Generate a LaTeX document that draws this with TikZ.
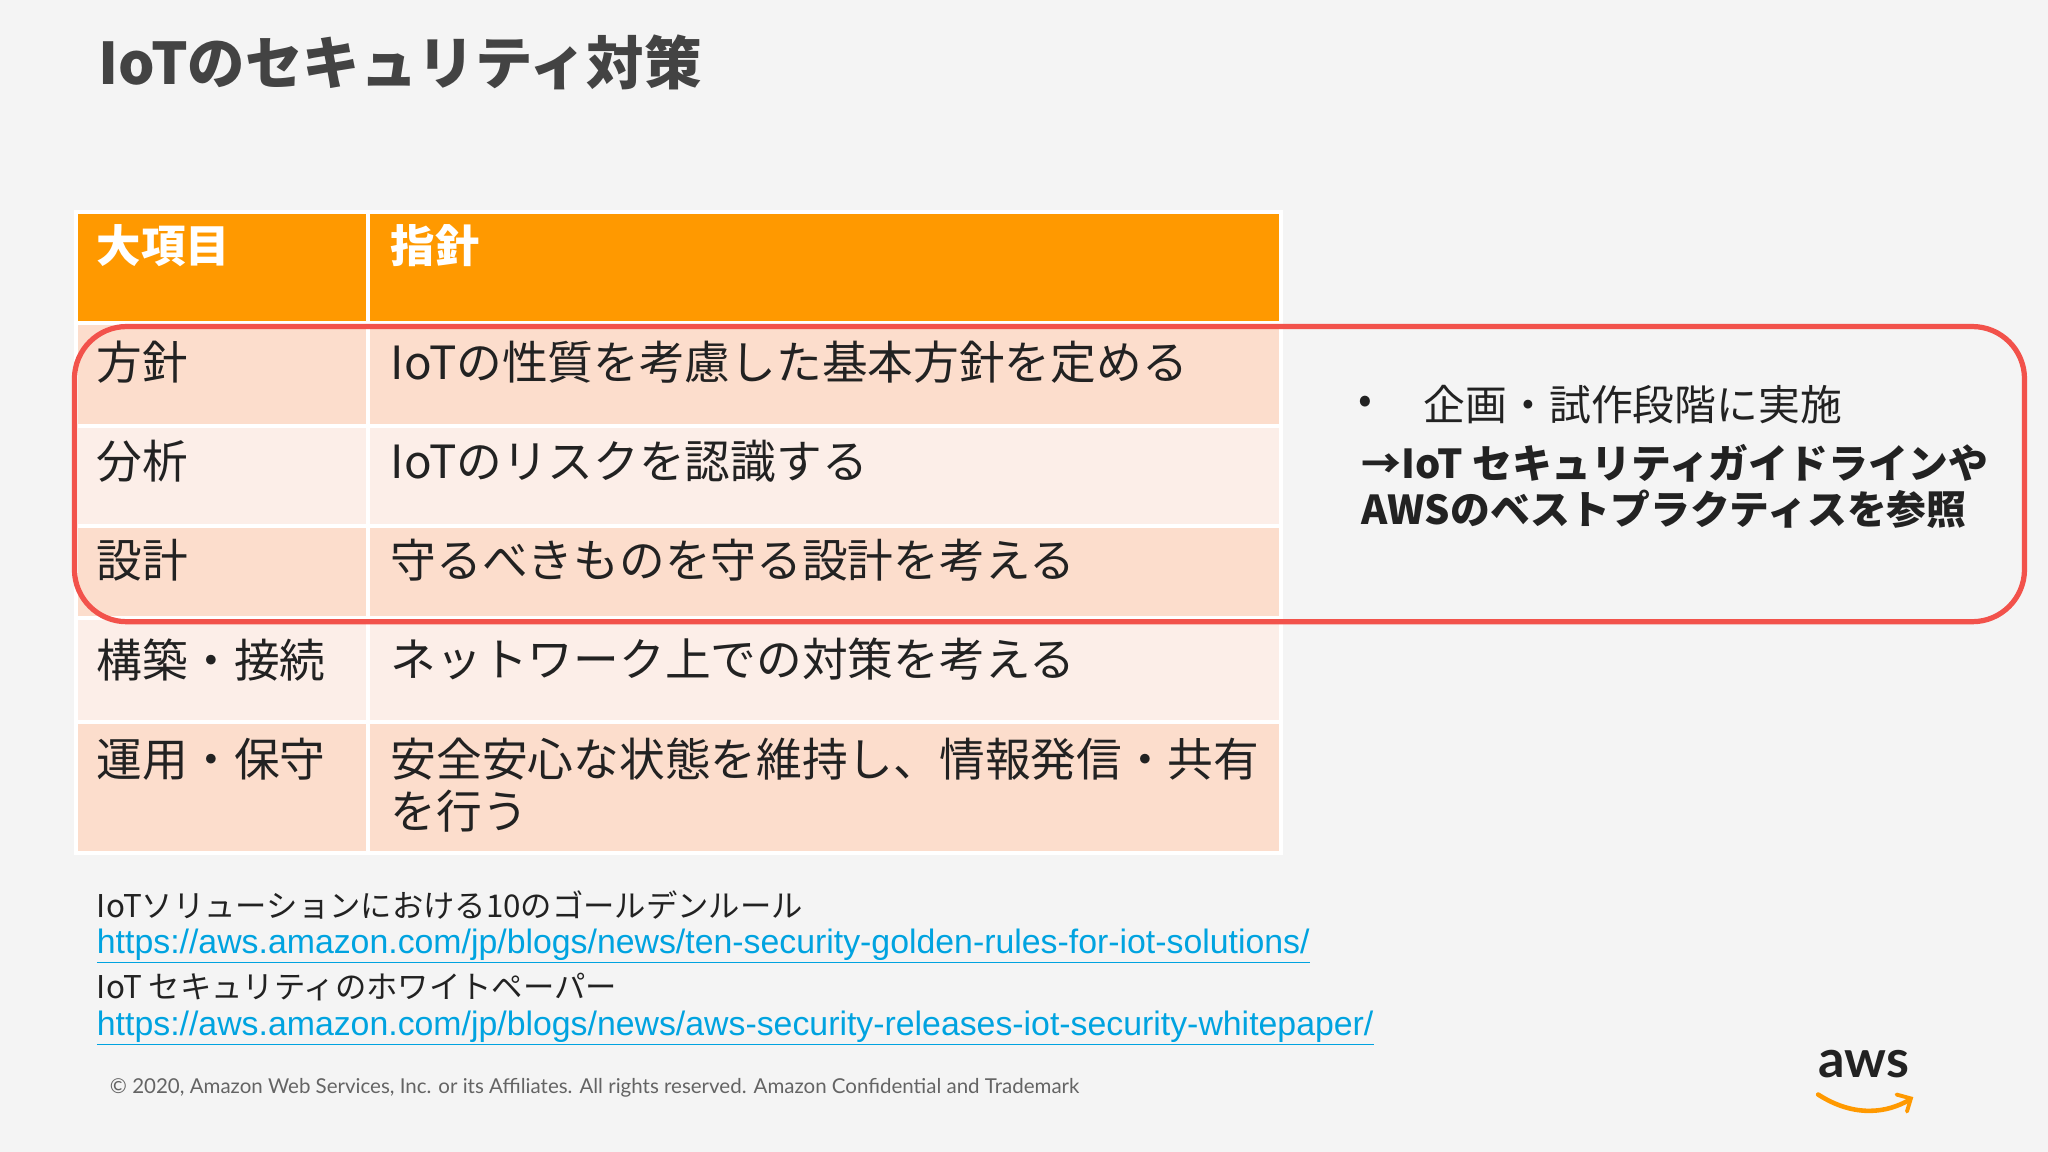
\documentclass[tikz,border=0pt]{standalone}
\usepackage{fontspec}
\setmainfont{Noto Sans CJK JP}
\newfontfamily\lat{Lato}
\newfontfamily\ari{Liberation Sans}
\definecolor{bg}{HTML}{F4F4F4}
\definecolor{aor}{HTML}{FF9900}
\definecolor{pk1}{HTML}{FCDDCC}
\definecolor{pk2}{HTML}{FCEEE8}
\definecolor{rd}{HTML}{F2524B}
\definecolor{lk}{HTML}{00A3E0}
\definecolor{tx}{HTML}{222222}
\begin{document}
\begin{tikzpicture}[x=1pt,y=-1pt,
 ct/.style={anchor=west,inner sep=0pt,text=tx,font=\fontsize{35}{40}\selectfont},
 ht/.style={anchor=west,inner sep=0pt,text=white,font=\fontsize{34}{40}\selectfont\bfseries}]
\fill[bg] (0,0) rectangle (1568,882);
\useasboundingbox (0,0) rectangle (1568,882);
\node[anchor=west,inner sep=0pt,text=tx!85!white,font=\fontsize{44}{50}\selectfont\bfseries] (title) at (75,48) {IoTのセキュリティ対策};
% table
\foreach \ya/\yb/\c [count=\i] in {162/247/aor,247/326/pk1,326/403/pk2,403/473/pk1,473/553/pk2,553/653/pk1}{
  \fill[\c,draw=white,line width=3pt] (58,\ya) rectangle (282,\yb);
  \fill[\c,draw=white,line width=3pt] (282,\ya) rectangle (981,\yb);
}
\node[ht] (h1) at (74,188) {大項目};
\node[ht] (h2) at (299,188) {指針};
\node[ct] (a1) at (74,277) {方針};
\node[ct] (b1) at (299,277) {IoTの性質を考慮した基本方針を定める};
\node[ct] (a2) at (74,353) {分析};
\node[ct] (b2) at (299,353) {IoTのリスクを認識する};
\node[ct] (a3) at (74,429) {設計};
\node[ct] (b3) at (299,429) {守るべきものを守る設計を考える};
\node[ct] (a4) at (74,505) {構築・接続};
\node[ct] (b4) at (299,505) {ネットワーク上での対策を考える};
\node[ct] (a5) at (74,581) {運用・保守};
\node[ct] (b5) at (299,581) {安全安心な状態を維持し、情報発信・共有};
\node[ct] (b5b) at (299,621) {を行う};
% red box
\draw[rd,line width=4pt,rounded corners=40pt] (57,250) rectangle (1550,476);
\node[ct,font=\fontsize{31}{36}\selectfont] (bul) at (1040,310) {•};
\node[ct,font=\fontsize{32}{36}\selectfont] (r1) at (1090,310) {企画・試作段階に実施};
\node[ct,font=\fontsize{30.5}{34}\selectfont\bfseries] (r2) at (1042,355) {→IoT セキュリティガイドラインや};
\node[ct,font=\fontsize{30.5}{34}\selectfont\bfseries] (r3) at (1042,390) {AWSのベストプラクティスを参照};
% links
\node[ct,font=\fontsize{24}{28}\selectfont] (l1) at (74,693) {IoTソリューションにおける10のゴールデンルール};
\node[ct,text=lk,font=\fontsize{25.9}{28}\selectfont\ari] (l2) at (74,724) {\underline{https://aws.amazon.com/jp/blogs/news/ten-security-golden-rules-for-iot-solutions/}};
\node[ct,font=\fontsize{24}{28}\selectfont] (l3) at (74,756) {IoT セキュリティのホワイトペーパー};
\node[ct,text=lk,font=\fontsize{25.9}{28}\selectfont\ari] (l4) at (74,787) {\underline{https://aws.amazon.com/jp/blogs/news/aws-security-releases-iot-security-whitepaper/}};
\node[ct,text=tx!70!white,font=\fontsize{15.7}{18}\selectfont\lat] (ft) at (84,833) {© 2020, Amazon Web Services, Inc. or its Affiliates. All rights reserved. Amazon Confidential and Trademark};
% aws logo
\node[anchor=center,inner sep=0pt,text=tx,font=\fontsize{40}{40}\selectfont\lat\bfseries] (aws) at (1427,815) {aws};
\draw[aor,line width=3.5pt,line cap=round] (1392,838) .. controls (1420,856) and (1445,852) .. (1462,842);
\draw[aor,line width=3pt,line cap=round] (1452,838) -- (1463,841) -- (1460,851);
\end{tikzpicture}
\end{document}
